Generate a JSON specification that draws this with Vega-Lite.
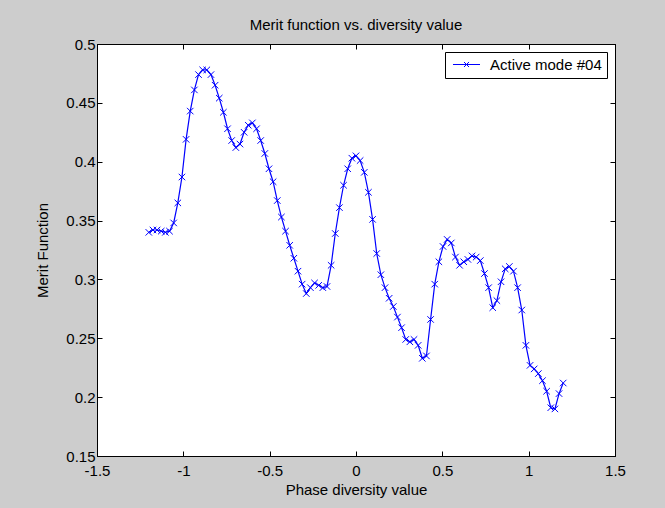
{
  "$schema": "https://vega.github.io/schema/vega-lite/v6.json",
  "width": 518,
  "height": 412,
  "autosize": {"type": "none"},
  "padding": {"left": 97, "top": 44, "right": 50, "bottom": 52},
  "background": "#cdcdcd",
  "title": {"text": "Merit function vs. diversity value", "fontSize": 15, "font": "Liberation Sans", "fontWeight": "normal", "color": "black", "offset": 4, "anchor": "middle"},
  "config": {
    "view": {"fill": "white", "stroke": "black", "strokeWidth": 1},
    "axis": {"domainColor": "black", "domainWidth": 1, "tickColor": "black", "tickWidth": 1, "labelColor": "black", "titleColor": "black", "labelFont": "Liberation Sans", "titleFont": "Liberation Sans", "labelFontSize": 15, "titleFontSize": 15, "titleFontWeight": "normal", "grid": false, "tickSize": -5, "labelPadding": 7, "labelFlush": false, "labelOverlap": false}
  },
  "data": {"values": [
    {"x": -1.2, "y": 0.340}, {"x": -1.176, "y": 0.342}, {"x": -1.152, "y": 0.342}, {"x": -1.128, "y": 0.341}, {"x": -1.104, "y": 0.340},
    {"x": -1.08, "y": 0.341}, {"x": -1.056, "y": 0.348}, {"x": -1.032, "y": 0.365}, {"x": -1.008, "y": 0.387}, {"x": -0.984, "y": 0.419},
    {"x": -0.96, "y": 0.443}, {"x": -0.936, "y": 0.461}, {"x": -0.912, "y": 0.474}, {"x": -0.888, "y": 0.478}, {"x": -0.864, "y": 0.478},
    {"x": -0.84, "y": 0.474}, {"x": -0.816, "y": 0.465}, {"x": -0.792, "y": 0.454}, {"x": -0.768, "y": 0.442}, {"x": -0.744, "y": 0.428},
    {"x": -0.72, "y": 0.418}, {"x": -0.696, "y": 0.412}, {"x": -0.672, "y": 0.415}, {"x": -0.648, "y": 0.425}, {"x": -0.624, "y": 0.431},
    {"x": -0.6, "y": 0.433}, {"x": -0.576, "y": 0.428}, {"x": -0.552, "y": 0.418}, {"x": -0.528, "y": 0.407}, {"x": -0.504, "y": 0.394},
    {"x": -0.48, "y": 0.383}, {"x": -0.456, "y": 0.367}, {"x": -0.432, "y": 0.353}, {"x": -0.408, "y": 0.341}, {"x": -0.384, "y": 0.329},
    {"x": -0.36, "y": 0.318}, {"x": -0.336, "y": 0.307}, {"x": -0.312, "y": 0.296}, {"x": -0.288, "y": 0.288}, {"x": -0.264, "y": 0.293},
    {"x": -0.24, "y": 0.297}, {"x": -0.216, "y": 0.295}, {"x": -0.192, "y": 0.293}, {"x": -0.168, "y": 0.294}, {"x": -0.144, "y": 0.312},
    {"x": -0.12, "y": 0.339}, {"x": -0.096, "y": 0.361}, {"x": -0.072, "y": 0.380}, {"x": -0.048, "y": 0.394}, {"x": -0.024, "y": 0.403},
    {"x": 0.0, "y": 0.405}, {"x": 0.024, "y": 0.401}, {"x": 0.048, "y": 0.391}, {"x": 0.072, "y": 0.374}, {"x": 0.096, "y": 0.351},
    {"x": 0.12, "y": 0.322}, {"x": 0.144, "y": 0.304}, {"x": 0.168, "y": 0.293}, {"x": 0.192, "y": 0.284}, {"x": 0.216, "y": 0.277},
    {"x": 0.24, "y": 0.268}, {"x": 0.264, "y": 0.259}, {"x": 0.288, "y": 0.249}, {"x": 0.312, "y": 0.247}, {"x": 0.336, "y": 0.249},
    {"x": 0.36, "y": 0.244}, {"x": 0.384, "y": 0.233}, {"x": 0.408, "y": 0.235}, {"x": 0.432, "y": 0.266}, {"x": 0.456, "y": 0.296},
    {"x": 0.48, "y": 0.315}, {"x": 0.504, "y": 0.328}, {"x": 0.528, "y": 0.334}, {"x": 0.552, "y": 0.331}, {"x": 0.576, "y": 0.319},
    {"x": 0.6, "y": 0.312}, {"x": 0.624, "y": 0.315}, {"x": 0.648, "y": 0.317}, {"x": 0.672, "y": 0.320}, {"x": 0.696, "y": 0.319},
    {"x": 0.72, "y": 0.316}, {"x": 0.744, "y": 0.305}, {"x": 0.768, "y": 0.293}, {"x": 0.792, "y": 0.276}, {"x": 0.816, "y": 0.282},
    {"x": 0.84, "y": 0.298}, {"x": 0.864, "y": 0.309}, {"x": 0.888, "y": 0.311}, {"x": 0.912, "y": 0.307}, {"x": 0.936, "y": 0.293},
    {"x": 0.96, "y": 0.274}, {"x": 0.984, "y": 0.244}, {"x": 1.008, "y": 0.227}, {"x": 1.032, "y": 0.224}, {"x": 1.056, "y": 0.220},
    {"x": 1.08, "y": 0.214}, {"x": 1.104, "y": 0.205}, {"x": 1.128, "y": 0.191}, {"x": 1.152, "y": 0.190}, {"x": 1.176, "y": 0.203},
    {"x": 1.2, "y": 0.212}
  ]},
  "layer": [
    {
      "mark": {"type": "line", "strokeWidth": 1.2},
      "encoding": {
        "x": {"field": "x", "type": "quantitative", "scale": {"domain": [-1.5, 1.5], "nice": false, "zero": false},
              "axis": {"orient": "bottom", "values": [-1.5, -1, -0.5, 0, 0.5, 1, 1.5], "labelExpr": "'' + datum.value", "labelPadding": 12, "title": "Phase diversity value", "titlePadding": 4}},
        "y": {"field": "y", "type": "quantitative", "scale": {"domain": [0.15, 0.5], "nice": false, "zero": false},
              "axis": {"orient": "left", "values": [0.15, 0.2, 0.25, 0.3, 0.35, 0.4, 0.45, 0.5], "labelExpr": "'' + datum.value", "title": "Merit Function", "titlePadding": 15}},
        "color": {"datum": "Active mode #04", "type": "nominal", "scale": {"range": ["#0000ff"]},
                  "legend": {"title": null, "orient": "top-right", "offset": 8, "padding": 5, "fillColor": "white", "strokeColor": "black",
                             "symbolType": "M-1.93,0H1.93M-0.36,-0.36L0.36,0.36M-0.36,0.36L0.36,-0.36", "symbolSize": 196,
                             "symbolStrokeColor": "#0000ff", "symbolFillColor": "transparent", "symbolStrokeWidth": 1, "symbolOffset": 9,
                             "labelOffset": 16, "labelFont": "Liberation Sans", "labelFontSize": 15, "labelColor": "black"}}
      }
    },
    {
      "mark": {"type": "point", "shape": "M-1,-1L1,1M-1,1L1,-1", "filled": false, "size": 42, "color": "#0000ff", "strokeWidth": 1, "opacity": 1},
      "encoding": {
        "x": {"field": "x", "type": "quantitative", "scale": {"domain": [-1.5, 1.5], "nice": false, "zero": false},
              "axis": {"orient": "top", "values": [-1.5, -1, -0.5, 0, 0.5, 1, 1.5], "labels": false, "title": null}},
        "y": {"field": "y", "type": "quantitative", "scale": {"domain": [0.15, 0.5], "nice": false, "zero": false},
              "axis": {"orient": "right", "values": [0.15, 0.2, 0.25, 0.3, 0.35, 0.4, 0.45, 0.5], "labels": false, "title": null}}
      }
    }
  ],
  "resolve": {"axis": {"x": "independent", "y": "independent"}}
}
